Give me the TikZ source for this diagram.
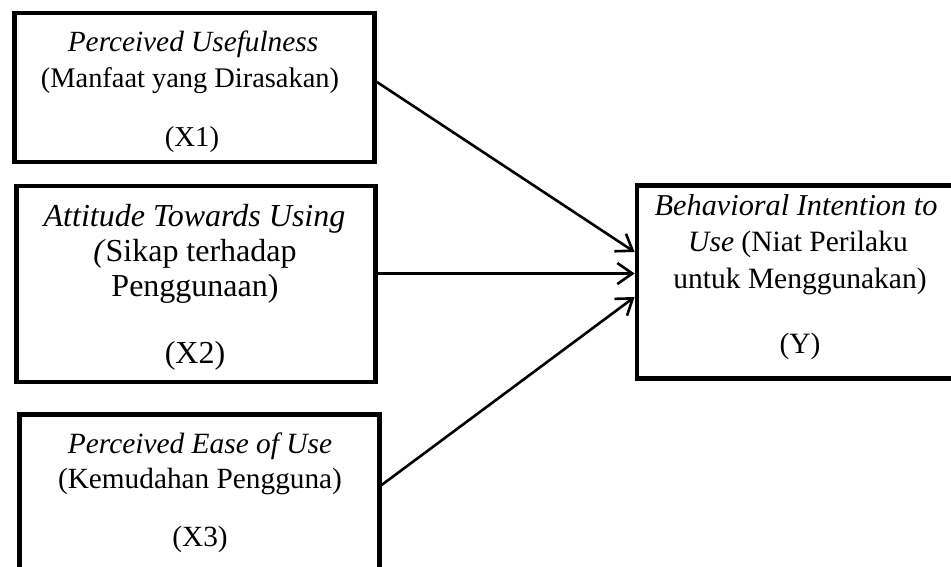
\documentclass[tikz,border=0pt]{standalone}
\usepackage{fontspec}
\setmainfont{Liberation Serif}
\usetikzlibrary{arrows.meta}
\tikzset{
  box/.style={draw=black, line width=4.8pt, fill=none, inner sep=0pt},
  txt/.style={anchor=base, inner sep=0pt, font=\fontsize{#1}{34}\selectfont},
  txt/.default=28.6,
  itxt/.style={anchor=base, inner sep=0pt, font=\fontsize{#1}{34}\selectfont\itshape},
  arr/.style={line width=2.6pt, -{Straight Barb[length=15pt,width=21pt]}},
}
\begin{document}
\begin{tikzpicture}[x=1pt,y=-1pt]
\useasboundingbox (0,0) rectangle (951,567);
% boxes
\node[box, minimum width=360pt, minimum height=149pt] (x1) at (194.5,87.5) {};
\node[box, minimum width=359pt, minimum height=196pt] (x2) at (196,284) {};
\node[box, minimum width=359.4pt, minimum height=157pt] (x3) at (199.5,493) {};
\node[box, minimum width=322pt, minimum height=192.5pt] (y) at (798,282) {};
% texts X1
\node[itxt=29.3] (x1a) at (193,51.7) {Perceived Usefulness};
\node[txt=28.4] (x1b) at (190,87.3) {(Manfaat yang Dirasakan)};
\node[txt=28.8] (x1c) at (192,146.5) {(X1)};
% texts X2
\node[itxt=32] (x2a) at (194.5,226.7) {Attitude Towards Using};
\node[txt=32] (x2b) at (195,261.7) {\textit{(}Sikap terhadap};
\node[txt=32] (x2c) at (195,296.7) {Penggunaan)};
\node[txt=32] (x2d) at (195,363.3) {(X2)};
% texts X3
\node[itxt=29.4] (x3a) at (200,453.3) {Perceived Ease of Use};
\node[txt=29.3] (x3b) at (200,488.3) {(Kemudahan Pengguna)};
\node[txt=29.3] (x3c) at (200,546.7) {(X3)};
% texts Y
\node[itxt=30.3] (ya) at (796,215) {Behavioral Intention to};
\node[txt=29.5] (yb) at (798,251.7) {\textit{Use} (Niat Perilaku};
\node[txt=29.5] (yc) at (800,288.3) {untuk Menggunakan)};
\node[txt=29.5] (yd) at (800,353.3) {(Y)};
% arrows
\draw[arr] ([yshift=5.5pt]x1.east) -- ([yshift=30pt]y.west);
\draw[arr] ([yshift=10.5pt]x2.east) -- ([yshift=8.5pt]y.west);
\draw[arr] ([yshift=8pt]x3.east) -- ([yshift=-15pt]y.west);
\end{tikzpicture}
\end{document}
